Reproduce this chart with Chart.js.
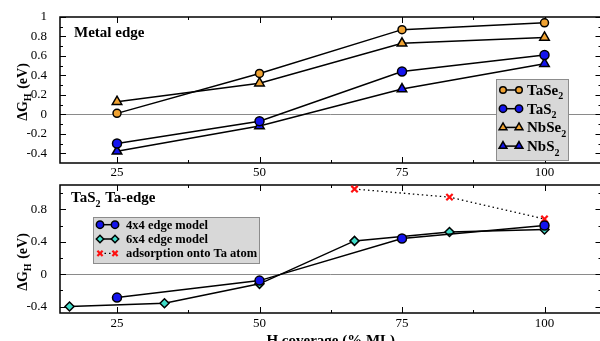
<!DOCTYPE html>
<html>
<head>
<meta charset="utf-8">
<script src="https://cdn.jsdelivr.net/npm/chart.js@4.4.1/dist/chart.umd.min.js"></script>
<style>
  html, body { margin: 0; padding: 0; background: #fff; overflow: hidden; }
  #wrap { position: relative; width: 600px; height: 341px; overflow: hidden; }
  .panel { position: absolute; left: 0; width: 610px; }
  #top { top: 0; height: 180px; }
  #bottom { top: 180px; height: 161px; }
</style>
</head>
<body>
<div id="wrap">
  <div class="panel" id="top"><canvas id="topChart"></canvas></div>
  <div class="panel" id="bottom"><canvas id="bottomChart"></canvas></div>
</div>
<script>
// ---- data ----
const coverage = [25, 50, 75, 100];
const taSe2 = [0.01, 0.42, 0.87, 0.94];
const taS2 = [-0.30, -0.07, 0.44, 0.61];
const nbSe2 = [0.13, 0.32, 0.73, 0.79];
const nbS2 = [-0.38, -0.12, 0.26, 0.52];

const edge4x4X = [25, 50, 75, 100];
const edge4x4Y = [-0.29, -0.08, 0.44, 0.60];
const edge6x4X = [16.67, 33.33, 50, 66.67, 83.33, 100];
const edge6x4Y = [-0.40, -0.36, -0.12, 0.41, 0.52, 0.55];
const taAtomX = [66.67, 83.33, 100];
const taAtomY = [1.05, 0.95, 0.68];

// ---- axes ----
const xTicks = [25, 50, 75, 100];
const xMinor = [37.5, 62.5, 87.5];
const topYTicks = [-0.4, -0.2, 0, 0.2, 0.4, 0.6, 0.8, 1];
const topYMinor = [-0.3, -0.1, 0.1, 0.3, 0.5, 0.7, 0.9];
const botYTicks = [-0.4, 0, 0.4, 0.8];
const botYMinor = [-0.2, 0.2, 0.6, 1.0];

const SERIF = '"Liberation Serif", "DejaVu Serif", serif';
const ORANGE = '#efa232';
const BLUE = '#1414ee';
const TURQ = '#3fdcc8';

// text with "_x" as subscript character
function richWidth(ctx, text, size) {
  const parts = text.split('_');
  ctx.font = `bold ${size}px ${SERIF}`;
  let w = ctx.measureText(parts[0]).width;
  for (let i = 1; i < parts.length; i++) {
    ctx.font = `bold ${Math.round(size * 0.68)}px ${SERIF}`;
    w += ctx.measureText(parts[i][0]).width + 1;
    ctx.font = `bold ${size}px ${SERIF}`;
    w += ctx.measureText(parts[i].slice(1)).width;
  }
  return w;
}

function drawRich(ctx, text, x, y, size) {
  const parts = text.split('_');
  ctx.textBaseline = 'alphabetic';
  ctx.textAlign = 'left';
  ctx.font = `bold ${size}px ${SERIF}`;
  ctx.fillText(parts[0], x, y);
  x += ctx.measureText(parts[0]).width;
  for (let i = 1; i < parts.length; i++) {
    const sub = parts[i][0], rest = parts[i].slice(1);
    ctx.font = `bold ${Math.round(size * 0.68)}px ${SERIF}`;
    ctx.fillText(sub, x, y + size * 0.3);
    x += ctx.measureText(sub).width + 1;
    ctx.font = `bold ${size}px ${SERIF}`;
    ctx.fillText(rest, x, y);
    x += ctx.measureText(rest).width;
  }
  return x;
}

function setPointStyle(ctx, ds) {
  ctx.fillStyle = ds.pointBackgroundColor;
  ctx.strokeStyle = ds.pointBorderColor;
  ctx.lineWidth = ds.pointBorderWidth;
}

// frame, inward ticks, zero line, titles and legend
const decorPlugin = {
  id: 'decor',
  beforeDatasetsDraw(chart, args, o) {
    const { ctx, chartArea: a, scales: { x, y } } = chart;
    ctx.save();
    // zero line
    const y0 = Math.round(y.getPixelForValue(0)) + 0.5;
    ctx.strokeStyle = '#8a8a8a';
    ctx.lineWidth = 1;
    ctx.beginPath();
    ctx.moveTo(a.left, y0);
    ctx.lineTo(a.right, y0);
    ctx.stroke();

    // ticks
    ctx.strokeStyle = '#000';
    ctx.lineWidth = 1;
    const xt = (vals, len) => vals.forEach(v => {
      const px = Math.round(x.getPixelForValue(v)) + 0.5;
      ctx.beginPath();
      ctx.moveTo(px, a.bottom); ctx.lineTo(px, a.bottom - len);
      ctx.moveTo(px, a.top); ctx.lineTo(px, a.top + len);
      ctx.stroke();
    });
    const yt = (vals, len) => vals.forEach(v => {
      const py = Math.round(y.getPixelForValue(v)) + 0.5;
      ctx.beginPath();
      ctx.moveTo(a.left, py); ctx.lineTo(a.left + len, py);
      ctx.moveTo(a.right, py); ctx.lineTo(a.right - len, py);
      ctx.stroke();
    });
    xt(xTicks, 6); xt(o.xMinor, 3);
    yt(o.yMajor, 6); yt(o.yMinor, 3);

    // frame
    ctx.lineWidth = 1.5;
    ctx.strokeRect(a.left, a.top, a.right - a.left, a.bottom - a.top);
    ctx.restore();
  },
  afterDatasetsDraw(chart, args, o) {
    const { ctx } = chart;
    ctx.save();
    ctx.fillStyle = '#000';

    // panel title
    drawRich(ctx, o.title, o.titleX, o.titleY, o.titleSize);

    // y-axis title
    ctx.save();
    ctx.translate(o.yTitleX, o.yTitleY);
    ctx.rotate(-Math.PI / 2);
    const w = richWidth(ctx, 'ΔG_H (eV)', 14);
    drawRich(ctx, 'ΔG_H (eV)', -w / 2, 5, 14);
    ctx.restore();

    // x-axis title
    if (o.xTitle) {
      const a = chart.chartArea;
      ctx.font = `bold 15px ${SERIF}`;
      ctx.textAlign = 'center';
      ctx.textBaseline = 'alphabetic';
      ctx.fillText(o.xTitle, (a.left + a.right) / 2, o.xTitleY);
    }

    // legend
    const L = o.legend;
    ctx.fillStyle = '#d8d8d8';
    ctx.fillRect(L.x, L.y, L.w, L.h);
    ctx.strokeStyle = '#8c8c8c';
    ctx.lineWidth = 1;
    ctx.strokeRect(L.x + 0.5, L.y + 0.5, L.w, L.h);
    chart.data.datasets.forEach((ds, i) => {
      const ry = L.rowY + i * L.rowH;
      ctx.save();
      ctx.strokeStyle = ds.borderColor;
      ctx.lineWidth = ds.borderWidth;
      if (ds.borderDash) ctx.setLineDash(ds.borderDash);
      ctx.beginPath();
      ctx.moveTo(L.m1, ry); ctx.lineTo(L.m2, ry);
      ctx.stroke();
      ctx.restore();
      const ps = { pointStyle: ds.pointStyle, radius: ds.pointRadius * 0.82, rotation: 0, borderWidth: ds.pointBorderWidth };
      [L.m1, L.m2].forEach(mx => {
        setPointStyle(ctx, ds);
        Chart.helpers.drawPoint(ctx, ps, mx, ry);
      });
      ctx.fillStyle = '#000';
      drawRich(ctx, ds.label, L.textX, ry + L.size * 0.33, L.size);
    });
    ctx.restore();
  }
};

function series(label, xs, ys, color, style, radius, extra) {
  return Object.assign({
    label: label,
    data: xs.map((v, i) => ({ x: v, y: ys[i] })),
    borderColor: '#000',
    borderWidth: 1.5,
    pointStyle: style,
    pointRadius: radius,
    pointBackgroundColor: color,
    pointBorderColor: '#000',
    pointBorderWidth: 1.5,
    showLine: true,
    tension: 0
  }, extra || {});
}

function axisOptions(yMin, yMax, yTicks, xHeight, xPad) {
  return {
    x: {
      type: 'linear', min: 15, max: 110,
      grid: { display: false }, border: { display: false },
      afterBuildTicks: s => { s.ticks = xTicks.map(v => ({ value: v })); },
      afterFit: s => { s.height = xHeight; s.paddingLeft = 0; s.paddingRight = 0; },
      ticks: { color: '#000', padding: xPad, maxRotation: 0, font: { family: SERIF, size: 13 }, callback: v => String(v) }
    },
    y: {
      type: 'linear', min: yMin, max: yMax,
      grid: { display: false }, border: { display: false },
      afterBuildTicks: s => { s.ticks = yTicks.map(v => ({ value: v })); },
      afterFit: s => { s.width = 60; s.paddingTop = 0; s.paddingBottom = 0; },
      ticks: { color: '#000', padding: 5, font: { family: SERIF, size: 13 }, callback: v => String(+v.toFixed(1)) }
    }
  };
}

const common = {
  responsive: true,
  maintainAspectRatio: false,
  animation: false,
  devicePixelRatio: 1,
  events: []
};

// top panel: metal edge
new Chart(document.getElementById('topChart'), {
  type: 'scatter',
  data: {
    datasets: [
      series('TaSe_2', coverage, taSe2, ORANGE, 'circle', 4),
      series('TaS_2', coverage, taS2, BLUE, 'circle', 4.5),
      series('NbSe_2', coverage, nbSe2, ORANGE, 'triangle', 5.5),
      series('NbS_2', coverage, nbS2, BLUE, 'triangle', 5.5)
    ]
  },
  options: Object.assign({}, common, {
    layout: { autoPadding: false, padding: { top: 17, right: 8.5, left: 0, bottom: 0 } },
    scales: axisOptions(-0.5, 1, topYTicks, 17, -6),
    plugins: {
      legend: { display: false },
      tooltip: { enabled: false },
      decor: {
        xMinor: xMinor, yMajor: topYTicks, yMinor: topYMinor,
        title: 'Metal edge', titleX: 74, titleY: 37, titleSize: 15,
        yTitleX: 22, yTitleY: 92,
        legend: { x: 496, y: 79, w: 72, h: 81, rowY: 90, rowH: 18.7, m1: 503, m2: 519, textX: 527, size: 15 }
      }
    }
  }),
  plugins: [decorPlugin]
});

// bottom panel: TaS2 Ta-edge
new Chart(document.getElementById('bottomChart'), {
  type: 'scatter',
  data: {
    datasets: [
      series('4x4 edge model', edge4x4X, edge4x4Y, BLUE, 'circle', 4.5),
      series('6x4 edge model', edge6x4X, edge6x4Y, TURQ, 'rectRot', 4.5),
      series('adsorption onto Ta atom', taAtomX, taAtomY, '#ff0000', 'crossRot', 4.5, {
        pointBorderColor: '#ff1010', pointBorderWidth: 2.2, borderDash: [1.5, 3], borderWidth: 1.3
      })
    ]
  },
  options: Object.assign({}, common, {
    layout: { autoPadding: false, padding: { top: 5, right: 8.5, left: 0, bottom: 0 } },
    scales: axisOptions(-0.48, 1.1, botYTicks, 28, -5),
    plugins: {
      legend: { display: false },
      tooltip: { enabled: false },
      decor: {
        xMinor: xMinor, yMajor: botYTicks, yMinor: botYMinor,
        title: 'TaS_2 Ta-edge', titleX: 71, titleY: 22, titleSize: 15,
        yTitleX: 22, yTitleY: 82,
        xTitle: 'H coverage (% ML)', xTitleY: 165,
        legend: { x: 93, y: 37, w: 166, h: 46, rowY: 44.7, rowH: 14.3, m1: 100, m2: 115, textX: 126, size: 12.5 }
      }
    }
  }),
  plugins: [decorPlugin]
});
</script>
</body>
</html>
